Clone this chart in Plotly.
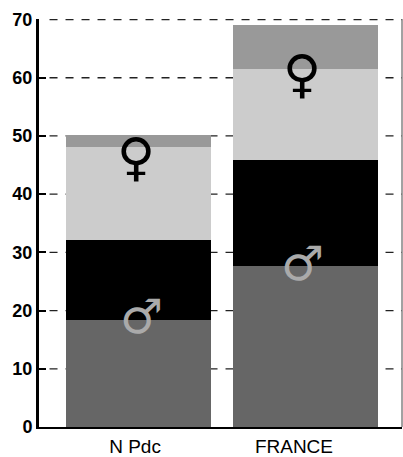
import plotly.graph_objects as go

categories = ["N Pdc", "FRANCE"]
male_low = [18.3, 27.6]
male_high = [13.8, 18.2]
female_low = [16.0, 15.7]
female_high = [2.1, 7.6]
tick_vals = [0, 10, 20, 30, 40, 50, 60, 70]
series = [
    (male_low, "#666666"),
    (male_high, "#000000"),
    (female_low, "#cccccc"),
    (female_high, "#999999"),
]

fig = go.Figure()
for vals, col in series:
    fig.add_trace(go.Bar(x=[0, 1], y=vals, marker=dict(color=col, line=dict(width=0)), width=0.869, showlegend=False))

for v in tick_vals[1:]:
    fig.add_shape(type="line", xref="paper", x0=0.029, x1=1, yref="y", y0=v, y1=v,
                  line=dict(color="#222222", width=1.3, dash="8px,8px"), layer="below")

symbols = [
    ("♀", -0.015, 46.3, "#000000", 52),
    ("♀", 0.98, 60.7, "#000000", 52),
    ("♂", 0.02, 19.0, "#aaaaaa", 48),
    ("♂", 0.982, 28.2, "#aaaaaa", 48),
]
for s, x, y, c, sz in symbols:
    fig.add_annotation(x=x, y=y, xref="x", yref="y", text=s, showarrow=False,
                       font=dict(family="DejaVu Sans", size=sz, color=c))

fig.update_layout(
    width=403, height=457, barmode="stack", bargap=0,
    margin=dict(l=38.5, r=1, t=19, b=30, autoexpand=False),
    paper_bgcolor="white", plot_bgcolor="white",
    xaxis=dict(range=[-0.594, 1.576], tickvals=[-0.02, 0.93], ticktext=categories, showgrid=False, zeroline=False,
               automargin=False, ticks="outside", ticklen=1, tickcolor="rgba(0,0,0,0)", showline=True, linecolor="#000000", linewidth=2,
               tickfont=dict(family="Liberation Sans", size=19, color="#000000")),
    yaxis=dict(range=[0, 70.09], tickvals=tick_vals, showgrid=False, zeroline=False, automargin=False,
               ticks="inside", ticklen=7, tickwidth=2, tickcolor="#000000",
               showline=True, linecolor="#000000", linewidth=3,
               tickfont=dict(family="Liberation Sans", size=18, color="#000000", weight="bold")),
)
fig.add_shape(type="line", xref="paper", yref="paper", x0=1, x1=1, y0=0, y1=1, line=dict(color="#444444", width=1))
fig.write_html("out.html", config={"displayModeBar": False}, post_script="document.body.style.margin='0';")
